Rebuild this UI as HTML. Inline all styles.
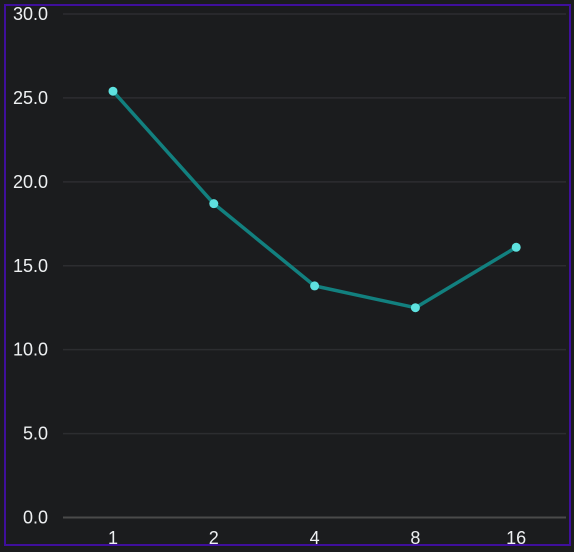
<!DOCTYPE html>
<html><head><style>
html,body{margin:0;padding:0;background:#1b1c1e;}
#wrap{position:relative;width:574px;height:552px;background:#1b1c1e;overflow:hidden;}
#frame{position:absolute;left:4px;top:4px;width:563px;height:538px;border:2px solid #3f0f9c;}
svg{position:absolute;left:0;top:0;}
text{font-family:"Liberation Sans",sans-serif;font-size:18px;fill:#eef0f2;}
</style></head><body>
<div id="wrap">
<div id="frame"></div>
<svg id="chart" width="574" height="552"></svg>
</div>
<script>
const categories = ["1","2","4","8","16"];
const values = [25.4, 18.7, 13.8, 12.5, 16.1];
const yTicks = [0,5,10,15,20,25,30];
const yTickLabels = ["0.0","5.0","10.0","15.0","20.0","25.0","30.0"];

const svg = document.getElementById('chart');
const NS = 'http://www.w3.org/2000/svg';
const y = v => 517.5 - v * (503.5/30);
const x = i => 113 + i * 100.8;
function mk(t, a){const e=document.createElementNS(NS,t);for(const k in a)e.setAttribute(k,a[k]);svg.appendChild(e);return e;}

yTicks.forEach((t,i)=>{
  const g = mk('line',{x1:63,x2:566,y1:y(t),y2:y(t),stroke:t===0?'#4a4a4a':'#2c2d30','stroke-width':t===0?2:1.5});
  
  
  const l = mk('text',{x:48,y:y(t)+6,'text-anchor':'end'});
  l.textContent = yTickLabels[i];
  
  
});
categories.forEach((c,i)=>{
  const l = mk('text',{x:x(i),y:544,'text-anchor':'middle'});
  l.textContent = c;
  
  
});
const pts = values.map((v,i)=>x(i)+','+y(v)).join(' ');
const line = mk('polyline',{points:pts,fill:'none',stroke:'#12807f','stroke-width':3.5,'stroke-linejoin':'round'});


values.forEach((v,i)=>{
  const d = mk('circle',{cx:x(i),cy:y(v),r:4.5,fill:'#5ee2e0'});
  
  
});
</script>
</body></html>
